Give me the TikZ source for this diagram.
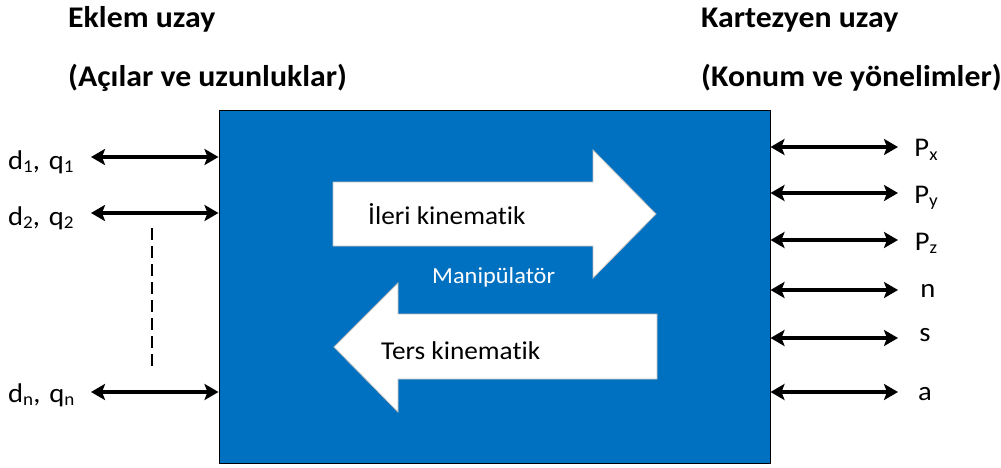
\documentclass[tikz,border=0pt]{standalone}
\usepackage{fontspec}
\setmainfont[FakeStretch=1.06,Ligatures=NoCommon]{Carlito}
\usetikzlibrary{arrows.meta}
\definecolor{mblue}{HTML}{0070C0}
\newcommand{\lsub}[2]{\raisebox{-0.12em}{\fontsize{#1}{#1}\selectfont #2}}
\begin{document}
\begin{tikzpicture}[x=1pt,y=-1pt,
  biarrow/.style={line width=3.4pt,{Stealth[length=14pt,width=16pt,inset=3pt]}-{Stealth[length=14pt,width=16pt,inset=3pt]}},
  title/.style={font=\fontsize{30}{34}\selectfont\bfseries,anchor=base west,inner sep=0pt},
  lbl/.style={font=\fontsize{27}{30}\selectfont,inner sep=0pt},
  rlbl/.style={font=\fontsize{27}{32}\selectfont,inner sep=0pt,anchor=base},
  bigarrow/.style={fill=white,draw=black!25,line width=0.8pt},
  intext/.style={font=\fontsize{25.7}{30}\selectfont,inner sep=0pt,anchor=base west}]
\useasboundingbox (0,0) rectangle (1001,468);
% titles
\node[title] (t1) at (68,28) {Eklem uzay};
\node[title] (t2) at (68,87) {(Açılar ve uzunluklar)};
\node[title] (t3) at (701,28) {Kartezyen uzay};
\node[title] (t4) at (701,87) {(Konum ve yönelimler)};
% manipulator box
\node[draw=black,fill=mblue,line width=1pt,minimum width=551pt,minimum height=352pt,inner sep=0pt] (box) at (494.5,287) {};
% big arrows
\draw[bigarrow] (333,182) -- (593,182) -- (593,150) -- (656,214) -- (593,278) -- (593,246) -- (333,246) -- cycle;
\draw[bigarrow] (657,314) -- (398,314) -- (398,283) -- (334,347) -- (398,412) -- (398,379) -- (657,379) -- cycle;
\node[intext] (ileri) at (368,224) {İleri kinematik};
\node[intext] (ters) at (381,359) {Ters kinematik};
\node[intext,font=\fontsize{23}{28}\selectfont,text=white] (man) at (432,283) {Manipülatör};
% left labels
\node[lbl,anchor=base west] (d1) at (8,169) {d\lsub{18}{1},\hspace{0.33em}q\lsub{18}{1}};
\node[lbl,anchor=base west] (d2) at (8,225) {d\lsub{18}{2},\hspace{0.33em}q\lsub{18}{2}};
\node[lbl,anchor=base west] (dn) at (8,402) {d\lsub{18}{n},\hspace{0.33em}q\lsub{18}{n}};
\coordinate (d1e) at (91,157);
\coordinate (d2e) at (91,213);
\coordinate (dne) at (91,392);
\draw[biarrow] (d1e) -- (d1e -| box.west);
\draw[biarrow] (d2e) -- (d2e -| box.west);
\draw[biarrow] (dne) -- (dne -| box.west);
\coordinate (dtop) at (152,228);
\coordinate (dbot) at (152,368);
\draw[line width=2.8pt,dash pattern=on 12pt off 6pt] (dtop) -- (dbot);
% right labels
\node[rlbl] (px) at (926,157) {P\lsub{18}{x}};
\node[rlbl] (py) at (926,203) {P\lsub{18}{y}};
\node[rlbl] (pz) at (926,250) {P\lsub{18}{z}};
\node[rlbl] (n) at (928,297) {n};
\node[rlbl] (s) at (925,341) {s};
\node[rlbl] (a) at (925,400) {a};
\coordinate (pxe) at (898,147);
\coordinate (pye) at (898,193);
\coordinate (pze) at (898,240);
\coordinate (ne) at (898,290);
\coordinate (se) at (898,338);
\coordinate (ae) at (898,392);
\foreach \c in {pxe,pye,pze,ne,se,ae}
  \draw[biarrow] (box.east |- \c) -- (\c);
\end{tikzpicture}
\end{document}
